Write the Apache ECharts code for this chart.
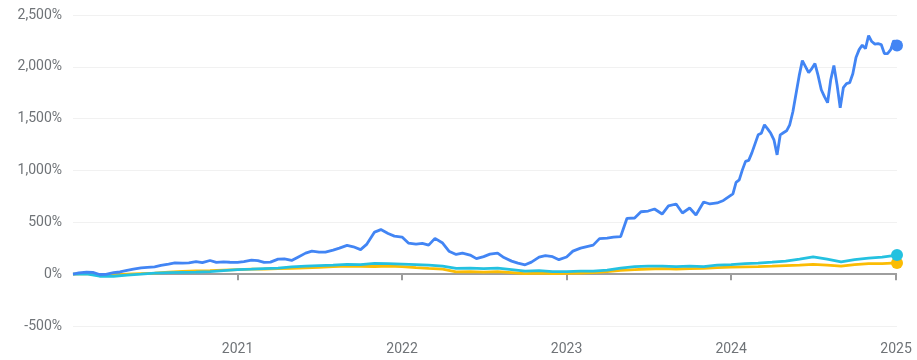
<!DOCTYPE html>
<html>
<head>
<meta charset="utf-8">
<script src="https://cdn.jsdelivr.net/npm/echarts@6/dist/echarts.min.js"></script>
<style>
  html, body { margin: 0; padding: 0; background: #ffffff; }
  #chart { width: 917px; height: 360px; }
</style>
</head>
<body>
<div id="chart"></div>
<script>
// Cumulative return (%) since the start of 2020.

// Blue series: twice a month through 2023, weekly through 2024.
const blueDates = [
  '2020-01-02','2020-01-15','2020-02-01','2020-02-15','2020-03-01','2020-03-15','2020-04-01','2020-04-15',
  '2020-05-01','2020-05-15','2020-06-01','2020-06-15','2020-07-01','2020-07-15','2020-08-01','2020-08-15',
  '2020-09-01','2020-09-15','2020-10-01','2020-10-15','2020-11-01','2020-11-15','2020-12-01','2020-12-15',
  '2021-01-01','2021-01-15','2021-02-01','2021-02-15','2021-03-01','2021-03-15','2021-04-01','2021-04-15',
  '2021-05-01','2021-05-15','2021-06-01','2021-06-15','2021-07-01','2021-07-15','2021-08-01','2021-08-15',
  '2021-09-01','2021-09-15','2021-10-01','2021-10-15','2021-11-01','2021-11-15','2021-12-01','2021-12-15',
  '2022-01-01','2022-01-15','2022-02-01','2022-02-15','2022-03-01','2022-03-15','2022-04-01','2022-04-15',
  '2022-05-01','2022-05-15','2022-06-01','2022-06-15','2022-07-01','2022-07-15','2022-08-01','2022-08-15',
  '2022-09-01','2022-09-15','2022-10-01','2022-10-15','2022-11-01','2022-11-15','2022-12-01','2022-12-15',
  '2023-01-01','2023-01-15','2023-02-01','2023-02-15','2023-03-01','2023-03-15','2023-04-01','2023-04-15',
  '2023-05-01','2023-05-15','2023-06-01','2023-06-15','2023-07-01','2023-07-15','2023-08-01','2023-08-15',
  '2023-09-01','2023-09-15','2023-10-01','2023-10-15','2023-11-01','2023-11-15','2023-12-01','2023-12-15',
  '2024-01-05','2024-01-12','2024-01-19','2024-01-26','2024-02-02','2024-02-09','2024-02-16','2024-02-23',
  '2024-03-01','2024-03-08','2024-03-15','2024-03-22','2024-03-29','2024-04-05','2024-04-12','2024-04-19',
  '2024-04-26','2024-05-03','2024-05-10','2024-05-17','2024-05-24','2024-05-31','2024-06-07','2024-06-14',
  '2024-06-21','2024-06-28','2024-07-05','2024-07-12','2024-07-19','2024-07-26','2024-08-02','2024-08-09',
  '2024-08-16','2024-08-23','2024-08-30','2024-09-06','2024-09-13','2024-09-20','2024-09-27','2024-10-04',
  '2024-10-11','2024-10-18','2024-10-25','2024-11-01','2024-11-08','2024-11-15','2024-11-22','2024-11-29',
  '2024-12-06','2024-12-13','2024-12-20','2024-12-27','2025-01-03'
];
const blueValues = [
  0, 12, 19, 17, -3, -2, 14, 21, 36, 48, 60, 65, 70, 84, 97, 108, 106, 109, 121, 111, 132, 113, 118, 115,
  113, 121, 135, 131, 113, 116, 145, 148, 132, 164, 203, 222, 213, 213, 232, 251, 278, 264, 237, 290, 406, 430, 392, 367,
  358, 300, 290, 297, 280, 345, 300, 222, 190, 203, 184, 150, 169, 193, 203, 160, 126, 106, 90, 116, 164, 179, 169, 140,
  166, 222, 251, 266, 280, 343, 348, 358, 363, 539, 542, 602, 609, 629, 580, 658, 677, 590, 638, 571, 696, 677, 687, 711,
  774, 885, 909, 1006, 1088, 1098, 1170, 1257, 1344, 1359, 1441, 1402, 1359, 1296, 1151, 1344,
  1364, 1383, 1441, 1567, 1741, 1915, 2060, 2002, 1944, 1983, 2031, 1915, 1779, 1712, 1654, 1876,
  2012, 1828, 1605, 1799, 1838, 1847, 1934, 2089, 2166, 2210, 2176, 2302, 2244, 2219, 2224, 2215,
  2128, 2128, 2166, 2254, 2205
];

// Cyan and yellow series: monthly.
const monthDates = [
  '2020-01-02','2020-02-01','2020-03-01','2020-04-01','2020-05-01','2020-06-01','2020-07-01','2020-08-01','2020-09-01','2020-10-01','2020-11-01','2020-12-01',
  '2021-01-01','2021-02-01','2021-03-01','2021-04-01','2021-05-01','2021-06-01','2021-07-01','2021-08-01','2021-09-01','2021-10-01','2021-11-01','2021-12-01',
  '2022-01-01','2022-02-01','2022-03-01','2022-04-01','2022-05-01','2022-06-01','2022-07-01','2022-08-01','2022-09-01','2022-10-01','2022-11-01','2022-12-01',
  '2023-01-01','2023-02-01','2023-03-01','2023-04-01','2023-05-01','2023-06-01','2023-07-01','2023-08-01','2023-09-01','2023-10-01','2023-11-01','2023-12-01',
  '2024-01-01','2024-02-01','2024-03-01','2024-04-01','2024-05-01','2024-06-01','2024-07-01','2024-08-01','2024-09-01','2024-10-01','2024-11-01','2024-12-01',
  '2025-01-03'
];
const cyanValues = [
  0, 2, -20, -20, -10, 0, 10, 15, 17, 19, 25, 34,
  43, 48, 53, 58, 71, 77, 82, 87, 94, 92, 104, 102,
  97, 92, 87, 77, 55, 58, 53, 58, 44, 29, 34, 24,
  24, 29, 29, 39, 58, 73, 77, 77, 73, 77, 73, 87,
  92, 102, 106, 116, 126, 145, 167, 145, 119, 140, 155, 164,
  184
];
const yellowValues = [
  0, 5, -10, -10, 0, 5, 10, 19, 26, 31, 34, 39,
  44, 48, 50, 53, 55, 60, 66, 72, 77, 75, 74, 77,
  73, 63, 55, 48, 22, 24, 19, 24, 15, 5, 10, 5,
  7, 10, 14, 24, 37, 44, 50, 53, 50, 53, 55, 63,
  68, 71, 73, 77, 82, 87, 94, 87, 77, 92, 102, 102,
  108
];

const yTicks = { min: -500, max: 2500, step: 500 };

const BLUE = '#4285F4';
const CYAN = '#24C1E0';
const YELLOW = '#FBBC04';
const LABEL = '#6f7377';

const zip = (xs, ys) => xs.map((x, i) => [x, ys[i]]);
const lastPoint = (xs, ys) => [[xs[xs.length - 1], ys[ys.length - 1]]];

const lineSeries = (name, xs, ys, color) => ({
  name, type: 'line', data: zip(xs, ys), showSymbol: false, smooth: false,
  lineStyle: { color, width: 2.8 }, itemStyle: { color }, z: 3
});
const endDot = (xs, ys, color) => ({
  type: 'scatter', data: lastPoint(xs, ys), symbol: 'circle', symbolSize: 12,
  itemStyle: { color, opacity: 1 }, z: 4, silent: true
});

const chart = echarts.init(document.getElementById('chart'), null, { renderer: 'canvas' });
chart.setOption({
  animation: false,
  backgroundColor: '#ffffff',
  grid: { left: 73, right: 20, top: 15, bottom: 34 },
  xAxis: {
    type: 'time',
    min: blueDates[0],
    max: blueDates[blueDates.length - 1],
    minInterval: 365 * 24 * 3600 * 1000,
    splitNumber: 5,
    axisLine: { show: true, lineStyle: { color: '#efefef', width: 1 } },
    axisTick: { show: true, length: 6, lineStyle: { color: '#7b7b7b', width: 1.5 } },
    splitLine: { show: false },
    axisLabel: {
      color: LABEL, fontFamily: 'Roboto', fontSize: 14, margin: 16,
      formatter: (v) => String(new Date(v).getFullYear())
    }
  },
  yAxis: {
    type: 'value',
    min: yTicks.min, max: yTicks.max, interval: yTicks.step,
    axisLine: { show: false }, axisTick: { show: false },
    splitLine: { lineStyle: { color: '#f1f1f1', width: 1 } },
    axisLabel: {
      color: LABEL, fontFamily: 'Roboto', fontSize: 14, margin: 11,
      formatter: (v) => v.toLocaleString('en-US') + '%'
    }
  },
  series: [
    {
      type: 'line', data: [], silent: true, z: 1,
      markLine: {
        silent: true, symbol: 'none', label: { show: false }, z: 1,
        lineStyle: { color: '#9e9e9e', width: 2, type: 'solid' },
        data: [{ yAxis: 0 }]
      }
    },
    lineSeries('yellow', monthDates, yellowValues, YELLOW),
    lineSeries('cyan', monthDates, cyanValues, CYAN),
    lineSeries('blue', blueDates, blueValues, BLUE),
    endDot(monthDates, yellowValues, YELLOW),
    endDot(monthDates, cyanValues, CYAN),
    endDot(blueDates, blueValues, BLUE)
  ]
});
</script>
</body>
</html>
